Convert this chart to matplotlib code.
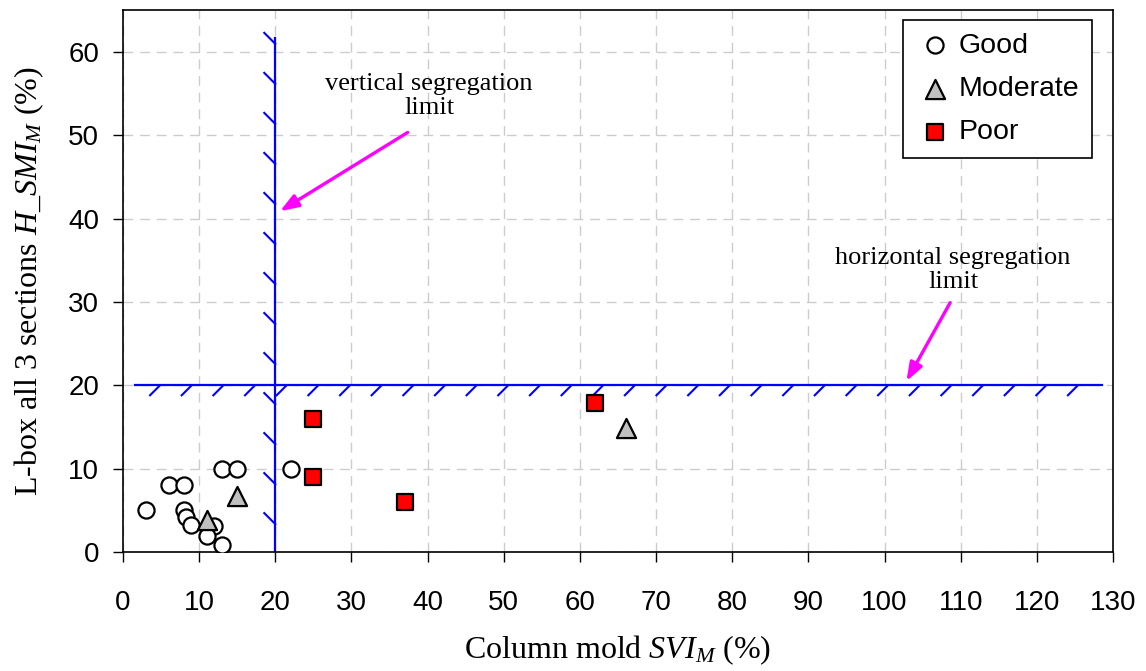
import numpy as np
import matplotlib
matplotlib.use("Agg")
from matplotlib import pyplot as plt

# data
good_x = [3, 6, 8, 8, 8.3, 8.9, 12, 11, 13, 13, 15, 22]
good_y = [5, 8, 8, 5, 4.2, 3.2, 3.1, 1.9, 0.9, 10, 10, 10]
mod_x = [11, 15, 66]
mod_y = [3.8, 6.7, 14.9]
poor_x = [25, 25, 37, 62]
poor_y = [16, 9, 6, 17.9]

v_limit = 20   # vertical segregation limit (SVI_M)
h_limit = 20   # horizontal segregation limit (H_SMI_M)

plt.rcParams['font.family'] = ['Liberation Sans', 'DejaVu Sans']
plt.rcParams['mathtext.fontset'] = 'custom'
plt.rcParams['mathtext.rm'] = 'Liberation Serif'
plt.rcParams['mathtext.it'] = 'Liberation Serif:italic'

fig = plt.figure(figsize=(11.46, 6.71), dpi=100)
ax = fig.add_axes([0.1073, 0.1773, 0.8639, 0.8077])
ax.set_xlim(0, 130)
ax.set_ylim(0, 65)

ax.set_xticks(range(0, 131, 10))
ax.set_yticks(range(0, 61, 10))
ax.tick_params(labelsize=20, length=7, direction='out', width=1)
ax.tick_params(axis='x', pad=20)
ax.tick_params(axis='y', pad=10)
ax.grid(True, color='#cccccc', linestyle=(0, (7, 5)), linewidth=1)
ax.set_axisbelow(True)
for s in ax.spines.values():
    s.set_linewidth(1.2)

# limit lines with hatch ticks
blue = '#0000ff'
ax.plot([v_limit, v_limit], [0, 61.6], color=blue, lw=1.6, zorder=2)
ax.plot([1.6, 128.5], [h_limit, h_limit], color=blue, lw=1.6, zorder=2)
dx_px = 130 / 990.0
dy_px = 65 / 542.0
for yy in np.arange(3.35, 61.5, 4.8):
    ax.plot([v_limit, v_limit - 11 * dx_px], [yy, yy + 11 * dy_px], color=blue, lw=1.5, zorder=2)
for xx in np.arange(4.87, 127, 4.156):
    ax.plot([xx, xx - 10 * dx_px], [h_limit, h_limit - 10 * dy_px], color=blue, lw=1.5, zorder=2)

ax.scatter(good_x, good_y, marker='o', s=135, facecolor='white', edgecolor='black', linewidths=1.6, zorder=4, label='Good')
ax.scatter(mod_x, mod_y, marker='^', s=190, facecolor='#c0c0c0', edgecolor='black', linewidths=1.6, zorder=4, label='Moderate')
ax.scatter(poor_x, poor_y, marker='s', s=120, facecolor='#ff0000', edgecolor='black', linewidths=1.6, zorder=4, label='Poor')

# annotations
ax.annotate('', xy=(20.3, 40.7), xytext=(37.7, 50.5),
            arrowprops=dict(arrowstyle='-|>,head_length=1.1,head_width=0.4', color='#ff00ff', lw=2.4))
ax.annotate('', xy=(102.7, 20.2), xytext=(108.8, 30.2),
            arrowprops=dict(arrowstyle='-|>,head_length=1.1,head_width=0.4', color='#ff00ff', lw=2.4))
ax.text(40.2, 54.7, 'vertical segregation\nlimit', ha='center', va='center',
        family='Liberation Serif', fontsize=19, linespacing=1.15)
ax.text(109, 33.8, 'horizontal segregation\nlimit', ha='center', va='center',
        family='Liberation Serif', fontsize=19, linespacing=1.15)

ax.set_xlabel(r'Column mold $SVI_M$ (%)', family='Liberation Serif', fontsize=23, labelpad=13)
ax.set_ylabel(r'L-box all 3 sections $H\_SMI_M$ (%)', family='Liberation Serif', fontsize=23, labelpad=16)

leg = ax.legend(loc='upper right', bbox_to_anchor=(0.979, 0.9815), fontsize=20.5, frameon=True,
                fancybox=False, edgecolor='black', framealpha=1, handletextpad=0.2,
                labelspacing=0.6, borderpad=0.45, markerscale=1.0, handlelength=1.3,
                borderaxespad=0)
leg.get_frame().set_linewidth(1.2)

fig.savefig('out.png', dpi=100)
